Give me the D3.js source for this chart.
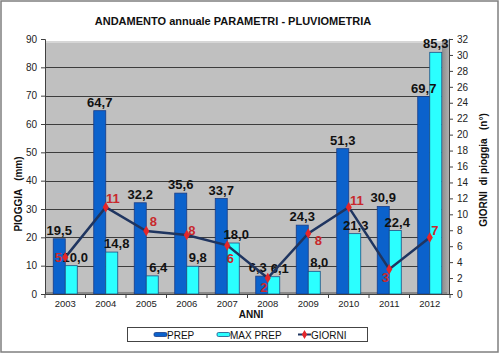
<!DOCTYPE html>
<html>
<head>
<meta charset="utf-8">
<script src="https://cdn.jsdelivr.net/npm/d3@7"></script>
<style>
  body { margin: 0; background: #fff; }
  svg { display: block; font-family: "Liberation Sans", Arial, sans-serif; }
</style>
</head>
<body>
<div id="chart"></div>
<script>
// Annual rainfall chart: PREP / MAX PREP bars + GIORNI line

const years = ["2003", "2004", "2005", "2006", "2007", "2008", "2009", "2010", "2011", "2012"];
const prep = [19.5, 64.7, 32.2, 35.6, 33.7, 6.3, 24.3, 51.3, 30.9, 69.7];
const maxPrep = [10.0, 14.8, 6.4, 9.8, 18.0, 6.1, 8.0, 21.3, 22.4, 85.3];
const giorni = [4.6, 10.9, 7.9, 7.4, 6.1, 2.0, 7.6, 10.9, 3.1, 7.1];
const giorniLabels = ["5", "11", "8", "8", "6", "2", "8", "11", "3", "7"];
const leftTicks = [0, 10, 20, 30, 40, 50, 60, 70, 80, 90];
const rightTicks = [0, 2, 4, 6, 8, 10, 12, 14, 16, 18, 20, 22, 24, 26, 28, 30, 32];
const seriesNames = ["PREP", "MAX PREP"];

// label nudges (style only)
const giorniLabelOffsets = [[-7, 5], [7, -4], [7, -5], [5, 0], [3, 18], [-4, 14], [10, 12], [8, -2], [-4, 13], [5, -2]];
const prepLabelDx = [0, 0, 0, 0, 0, -4, 0, 0, 0, 0];
const maxLabelDx = [4, 5, 6, 5, 3, 6, 5, 1, 2, 0];

const W = 500, H = 354;
const pL = 45, pR = 450, pT = 39, pB = 294;

const svg = d3.select("#chart").
append("svg").
attr("width", W).
attr("height", H);

// outer frame
svg.append("rect").
attr("x", 1).attr("y", 1).
attr("width", 497).attr("height", 351).
attr("fill", "#fff").
attr("stroke", "#7f7f7f").
attr("stroke-width", 1.5);

// scales
const xScale = d3.scaleBand().
domain(years).
range([pL, pR]).
paddingInner(0.407).
paddingOuter(0.2035);

const xSub = d3.scaleBand().
domain(seriesNames).
range([0, xScale.bandwidth()]);

const yLeft = d3.scaleLinear().domain([0, 90]).range([pB, pT]);
const yRight = d3.scaleLinear().domain([0, 32]).range([pB, pT]);

const fmt = d3.formatLocale({ decimal: ",", thousands: ".", grouping: [3], currency: ["", "€"] }).format(".1f");

// plot walls
const defs = svg.append("defs");
const grad = defs.append("linearGradient").attr("id", "side").attr("x1", 0).attr("x2", 1);
grad.append("stop").attr("offset", 0).attr("stop-color", "#8c8c8c");
grad.append("stop").attr("offset", 1).attr("stop-color", "#b4b4b4");

svg.append("rect").
attr("x", pL).attr("y", pT + 2).
attr("width", pR - pL - 3).attr("height", pB - pT - 2).
attr("fill", "#c0c0c0");

svg.append("path").
attr("d", `M${pR - 8},${pT + 2} L${pR - 3},${pT + 2} L${pR},${pT - 1} L${pR},${pB} L${pR - 8},${pB} Z`).
attr("fill", "url(#side)");

svg.append("rect").
attr("x", pL).attr("y", pT + 2).
attr("width", pR - pL - 8).attr("height", 2).
attr("fill", "#d6d6d6");

svg.append("rect").
attr("x", pL).attr("y", pB - 2).
attr("width", pR - pL - 3).attr("height", 2).
attr("fill", "#8a8a8a");

// gridlines
svg.append("g").
selectAll("line").
data(leftTicks.filter(t => t > 0 && t < 90)).
join("line").
attr("x1", pL).attr("x2", pR - 8).
attr("y1", d => Math.round(yLeft(d)) + 0.5).
attr("y2", d => Math.round(yLeft(d)) + 0.5).
attr("stroke", "#3c3c3c").
attr("stroke-width", 1);

// bars
const bars = [prep, maxPrep];
const fills = ["#0b62cc", "#2bffff"];
const strokes = ["#1a3c86", "#1c4f86"];

bars.forEach((vals, s) => {
  svg.append("g").
  selectAll("rect").
  data(vals).
  join("rect").
  attr("x", (d, i) => xScale(years[i]) + xSub(seriesNames[s])).
  attr("y", d => yLeft(d)).
  attr("width", xSub.bandwidth()).
  attr("height", d => pB - yLeft(d)).
  attr("fill", fills[s]).
  attr("stroke", strokes[s]).
  attr("stroke-width", 0.8);
});

// axes
const leftAxis = svg.append("g").
attr("transform", `translate(${pL},0)`).
call(d3.axisLeft(yLeft).tickValues(leftTicks).tickSize(4).tickPadding(4));

const rightAxis = svg.append("g").
attr("transform", `translate(${pR - 1},0)`).
call(d3.axisRight(yRight).tickValues(rightTicks).tickSize(4).tickPadding(4));

const bottomAxis = svg.append("g").
attr("transform", `translate(0,${pB})`).
call(d3.axisBottom(xScale).tickSize(0).tickPadding(6));

[leftAxis, rightAxis, bottomAxis].forEach(a => {
  a.selectAll("path").attr("stroke", "#404040");
  a.selectAll("line").attr("stroke", "#404040");
  a.selectAll("text").
  attr("fill", "#222").
  style("font-family", "Liberation Sans, Arial, sans-serif").
  style("font-size", "10px");
});
bottomAxis.selectAll("text").style("font-size", "9.5px");

// category separators on x axis
svg.append("g").
selectAll("line").
data(d3.range(years.length + 1)).
join("line").
attr("x1", i => pL + i * xScale.step()).
attr("x2", i => pL + i * xScale.step()).
attr("y1", pB).
attr("y2", pB + 4).
attr("stroke", "#404040");

// bar labels
const barLabelDx = [prepLabelDx, maxLabelDx];
bars.forEach((vals, s) => {
  svg.append("g").
  selectAll("text").
  data(vals).
  join("text").
  attr("x", (d, i) => xScale(years[i]) + xSub(seriesNames[s]) + xSub.bandwidth() / 2 + barLabelDx[s][i]).
  attr("y", d => yLeft(d) - 4).
  attr("text-anchor", "middle").
  attr("font-size", 13).
  attr("font-weight", "bold").
  attr("fill", "#111").
  text(d => fmt(d));
});

// GIORNI line
const lineX = (d, i) => xScale(years[i]) + xScale.bandwidth() / 2;
const line = d3.line().
x(lineX).
y(d => yRight(d));

svg.append("path").
datum(giorni).
attr("d", line).
attr("fill", "none").
attr("stroke", "#1f3560").
attr("stroke-width", 2.5);

const diamond = d3.symbol().type(d3.symbolDiamond).size(32);

svg.append("g").
selectAll("path").
data(giorni).
join("path").
attr("transform", (d, i) => `translate(${lineX(d, i)},${yRight(d)})`).
attr("d", diamond).
attr("fill", "#e3262a");

svg.append("g").
selectAll("text").
data(giorni).
join("text").
attr("x", (d, i) => lineX(d, i) + giorniLabelOffsets[i][0]).
attr("y", (d, i) => yRight(d) + giorniLabelOffsets[i][1]).
attr("text-anchor", "middle").
attr("font-size", 13).
attr("font-weight", "bold").
attr("fill", "#c8282c").
text((d, i) => giorniLabels[i]);

// titles
svg.append("text").
attr("x", 233).
attr("y", 25).
attr("text-anchor", "middle").
attr("font-size", 11).
attr("font-weight", "bold").
attr("fill", "#111").
text("ANDAMENTO annuale PARAMETRI - PLUVIOMETRIA");

svg.append("text").
attr("x", 251).
attr("y", 318).
attr("text-anchor", "middle").
attr("font-size", 10).
attr("font-weight", "bold").
attr("fill", "#111").
text("ANNI");

svg.append("text").
attr("transform", "translate(22,194) rotate(-90)").
attr("text-anchor", "middle").
attr("font-size", 10).
attr("font-weight", "bold").
attr("fill", "#111").
style("white-space", "pre").
text("PIOGGIA   (mm)");

svg.append("text").
attr("transform", "translate(487,170) rotate(-90)").
attr("text-anchor", "middle").
attr("font-size", 10).
attr("font-weight", "bold").
attr("fill", "#111").
style("white-space", "pre").
text("GIORNI  di pioggia   (n°)");

// legend
const legend = svg.append("g");

legend.append("rect").
attr("x", 127.5).attr("y", 327.5).
attr("width", 240).attr("height", 14).
attr("fill", "#fff").
attr("stroke", "#444");

const legendItems = [
  { name: "PREP", x: 154, kind: "bar", fill: fills[0], stroke: strokes[0] },
  { name: "MAX PREP", x: 217, kind: "bar", fill: fills[1], stroke: strokes[1] },
  { name: "GIORNI", x: 298, kind: "line" }
];

legendItems.forEach(it => {
  if (it.kind === "bar") {
    legend.append("rect").
    attr("x", it.x).attr("y", 332.5).
    attr("width", 13).attr("height", 4).
    attr("rx", 1.5).
    attr("fill", it.fill).
    attr("stroke", it.stroke).
    attr("stroke-width", 0.8);
  } else {
    legend.append("line").
    attr("x1", it.x).attr("x2", it.x + 13).
    attr("y1", 334.5).attr("y2", 334.5).
    attr("stroke", "#1f3560").
    attr("stroke-width", 2);
    legend.append("path").
    attr("transform", `translate(${it.x + 6.5},334.5)`).
    attr("d", d3.symbol().type(d3.symbolDiamond).size(24)).
    attr("fill", "#e3262a");
  }
  legend.append("text").
  attr("x", it.x + 13).
  attr("y", 338.5).
  attr("font-size", 10).
  attr("fill", "#111").
  text(it.name);
});
</script>
</body>
</html>
